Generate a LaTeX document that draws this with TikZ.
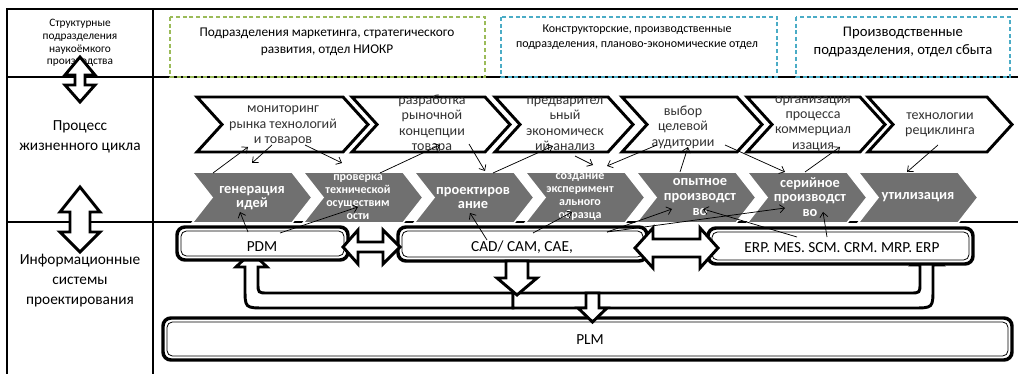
\documentclass[tikz,border=0pt]{standalone}
\usepackage{fontspec}
\setmainfont{Carlito}
\usetikzlibrary{arrows.meta,calc}
\definecolor{gch}{RGB}{112,112,112}
\definecolor{dgreen}{RGB}{155,187,89}
\definecolor{dblue}{RGB}{75,172,198}
\definecolor{txt}{RGB}{50,50,50}
\newcommand{\wchevron}[3]{\draw[wchev] (#1,97) -- (#2,97) -- (#3,124.5) -- (#2,152) -- (#1,152) -- ({#1+25},124.5) -- cycle;}
\newcommand{\gchevron}[1]{\draw[gchev] (#1,172) -- ({#1+100},172) -- ({#1+120},197.5) -- ({#1+100},223) -- (#1,223) -- ({#1+20},197.5) -- cycle;}
\begin{document}
\begin{tikzpicture}[x=0.75pt,y=-0.75pt,
  frame/.style={line width=1.5pt},
  dashbox/.style={draw=#1,line width=1pt,dash pattern=on 3pt off 2pt},
  wchev/.style={draw=black,fill=white,line width=2.2pt,line join=miter},
  gchev/.style={draw=white,fill=gch,line width=1.2pt,line join=miter},
  blk/.style={draw=black,fill=white,line width=2.2pt,line join=miter},
  obox/.style={draw=black,fill=white,line width=2.6pt,rounded corners=6pt},
  ibox/.style={draw=black,line width=0.6pt,rounded corners=4pt},
  con/.style={-{Straight Barb[length=3.5pt,width=6pt]},line width=0.55pt},
  lbl/.style={align=center,inner sep=0pt},
  wt/.style={lbl,text=txt,font=\fontsize{10.5}{11.6}\selectfont},
  gt/.style={lbl,text=white,font=\bfseries\fontsize{10.8}{11}\selectfont},
  gts/.style={lbl,text=white,font=\bfseries\fontsize{9}{9.8}\selectfont}
]
\useasboundingbox (0,0) rectangle (1018,374);
% frame
\draw[frame] (7,374) -- (7,9) -- (1018,9);
\draw[frame] (153,9) -- (153,374);
\draw[frame] (7,77) -- (1018,77);
\draw[frame] (7,222) -- (1018,222);
% left labels
\node[lbl,font=\fontsize{8.5}{9.4}\selectfont] (l1) at (80,43) {Структурные\\подразделения\\наукоёмкого\\производства};
\node[lbl,font=\fontsize{11.5}{15}\selectfont] (l2) at (80,137) {Процесс\\жизненного цикла};
\node[lbl,font=\fontsize{11.5}{15}\selectfont] (l3) at (80,281) {Информационные\\системы\\проектирования};
% left double arrows
\draw[blk] (80,57) -- (95,75) -- (85,75) -- (85,85) -- (95,85) -- (80,102) -- (65,85) -- (75,85) -- (75,75) -- (65,75) -- cycle;
\draw[blk] (80,187) -- (100,212) -- (90,212) -- (90,232) -- (100,232) -- (80,252) -- (60,232) -- (70,232) -- (70,212) -- (60,212) -- cycle;
% top dashed boxes
\draw[dashbox=dgreen] (170,17) rectangle (485,77);
\draw[dashbox=dblue] (501,17) rectangle (777,77);
\draw[dashbox=dblue] (796,17) rectangle (1010,77);
\node[lbl,font=\fontsize{10}{12.8}\selectfont] (b1) at (327,41.5) {Подразделения маркетинга, стратегического\\развития, отдел НИОКР};
\node[lbl,font=\fontsize{9}{11.2}\selectfont] (b2) at (637,37.5) {Конструкторские, производственные\\подразделения, планово-экономические отдел};
\node[lbl,font=\fontsize{11}{13.5}\selectfont] (b3) at (903,42) {Производственные\\подразделения, отдел сбыта};
% white chevrons
\wchevron{197}{343}{368}
\wchevron{352}{485}{510}
\wchevron{495}{608}{633}
\wchevron{622}{737}{762}
\wchevron{747}{860}{885}
\wchevron{868}{987}{1012}
\node[wt] (w1) at (283,126) {мониторинг\\рынка технологий\\и товаров};
\node[wt] (w2) at (432,124) {разработка\\рыночной\\концепции\\товара};
\node[wt] (w3) at (565,124) {предварител\\ьный\\экономическ\\ий анализ};
\node[wt] (w4) at (683,127) {выбор\\целевой\\аудитории};
\node[wt] (w5) at (813,124) {организация\\процесса\\коммерциал\\изация};
\node[wt] (w6) at (940,125) {технологии\\рециклинга};
% grey chevrons
\foreach \i in {0,...,6} {\gchevron{192+111*\i}}
\node[gt] (g1) at (252,198) {генерация\\идей};
\node[gts] (g2) at (358,197) {проверка\\технической\\осуществим\\ости};
\node[gt] (g3) at (473,198) {проектиров\\ание};
\node[gts] (g4) at (580,197) {создание\\эксперимент\\ального\\образца};
\node[gt] (g5) at (700,197) {опытное\\производст\\во};
\node[gt] (g6) at (810,197) {серийное\\производст\\во};
\node[gt] (g7) at (918,197) {утилизация};
% U arrows (band)
\draw[blk] (251.5,252) -- (267,267) -- (258,267) -- (258,283) .. controls (258,293) .. (268,293) -- (513,293) -- (513,308) -- (265,308) .. controls (245,308) .. (245,288) -- (245,267) -- (236,267) -- cycle;
\draw[blk] (513,293) -- (910,293) .. controls (920,293) .. (920,283) -- (920,265) -- (912,265) -- (927,252) -- (942,265) -- (933,265) -- (933,288) .. controls (933,308) .. (913,308) -- (513,308) -- cycle;
% boxes
\draw[obox] (177,227) rectangle (348,260);
\draw[ibox] (181,231) rectangle (344,256);
\draw[obox] (398,227) rectangle (647,261);
\draw[ibox] (402,231) rectangle (643,257);
\draw[obox] (708,228) rectangle (973,264);
\draw[ibox] (712,232) rectangle (969,260);
\draw[obox] (163,318) rectangle (1012,360);
\draw[ibox] (167,322) rectangle (1008,356);
\node[lbl,font=\fontsize{11.5}{13}\selectfont] (pdm) at (262,247) {PDM};
\node[lbl,font=\fontsize{11.5}{13}\selectfont] (cad) at (522,247) {CAD/ CAM, CAE,};
\node[lbl,font=\fontsize{11.5}{13}\selectfont] (erp) at (842,248) {ERP. MES. SCM. CRM. MRP. ERP};
\node[lbl,font=\fontsize{11.5}{13}\selectfont] (plm) at (590,340) {PLM};
% block arrows
\draw[blk] (343,247) -- (358,230) -- (358,242) -- (383,242) -- (383,230) -- (400,247) -- (383,264) -- (383,252) -- (358,252) -- (358,264) -- cycle;
\draw[blk] (635,248) -- (653,228) -- (653,239) -- (700,239) -- (700,228) -- (718,248) -- (700,268) -- (700,257) -- (653,257) -- (653,268) -- cycle;
\draw[blk] (506,261) -- (528,261) -- (528,278) -- (537,278) -- (517,295) -- (497,278) -- (506,278) -- cycle;
\draw[blk] (586,293) -- (599,293) -- (599,308) -- (607,308) -- (592.5,322) -- (578,308) -- (586,308) -- cycle;
% thin connectors
\foreach \s/\e [count=\i] in {
  {213,173}/{248,147}, {272,145}/{252,163}, {305,145}/{342,163},
  {248,232}/{240,212}, {280,233}/{358,207}, {380,173}/{440,145},
  {469,144}/{485,171}, {493,173}/{553,146}, {575,156}/{593,165},
  {657,145}/{607,166}, {487,240}/{470,213}, {533,233}/{572,212},
  {607,232}/{672,209}, {607,232}/{785,208}, {797,237}/{703,209},
  {827,237}/{823,212}, {680,172}/{688,147}, {725,145}/{785,172},
  {805,172}/{840,147}, {938,145}/{907,172}} {
  \coordinate (s\i) at (\s);
  \coordinate (e\i) at (\e);
  \draw[con] (s\i) -- (e\i);
}
\end{tikzpicture}
\end{document}
